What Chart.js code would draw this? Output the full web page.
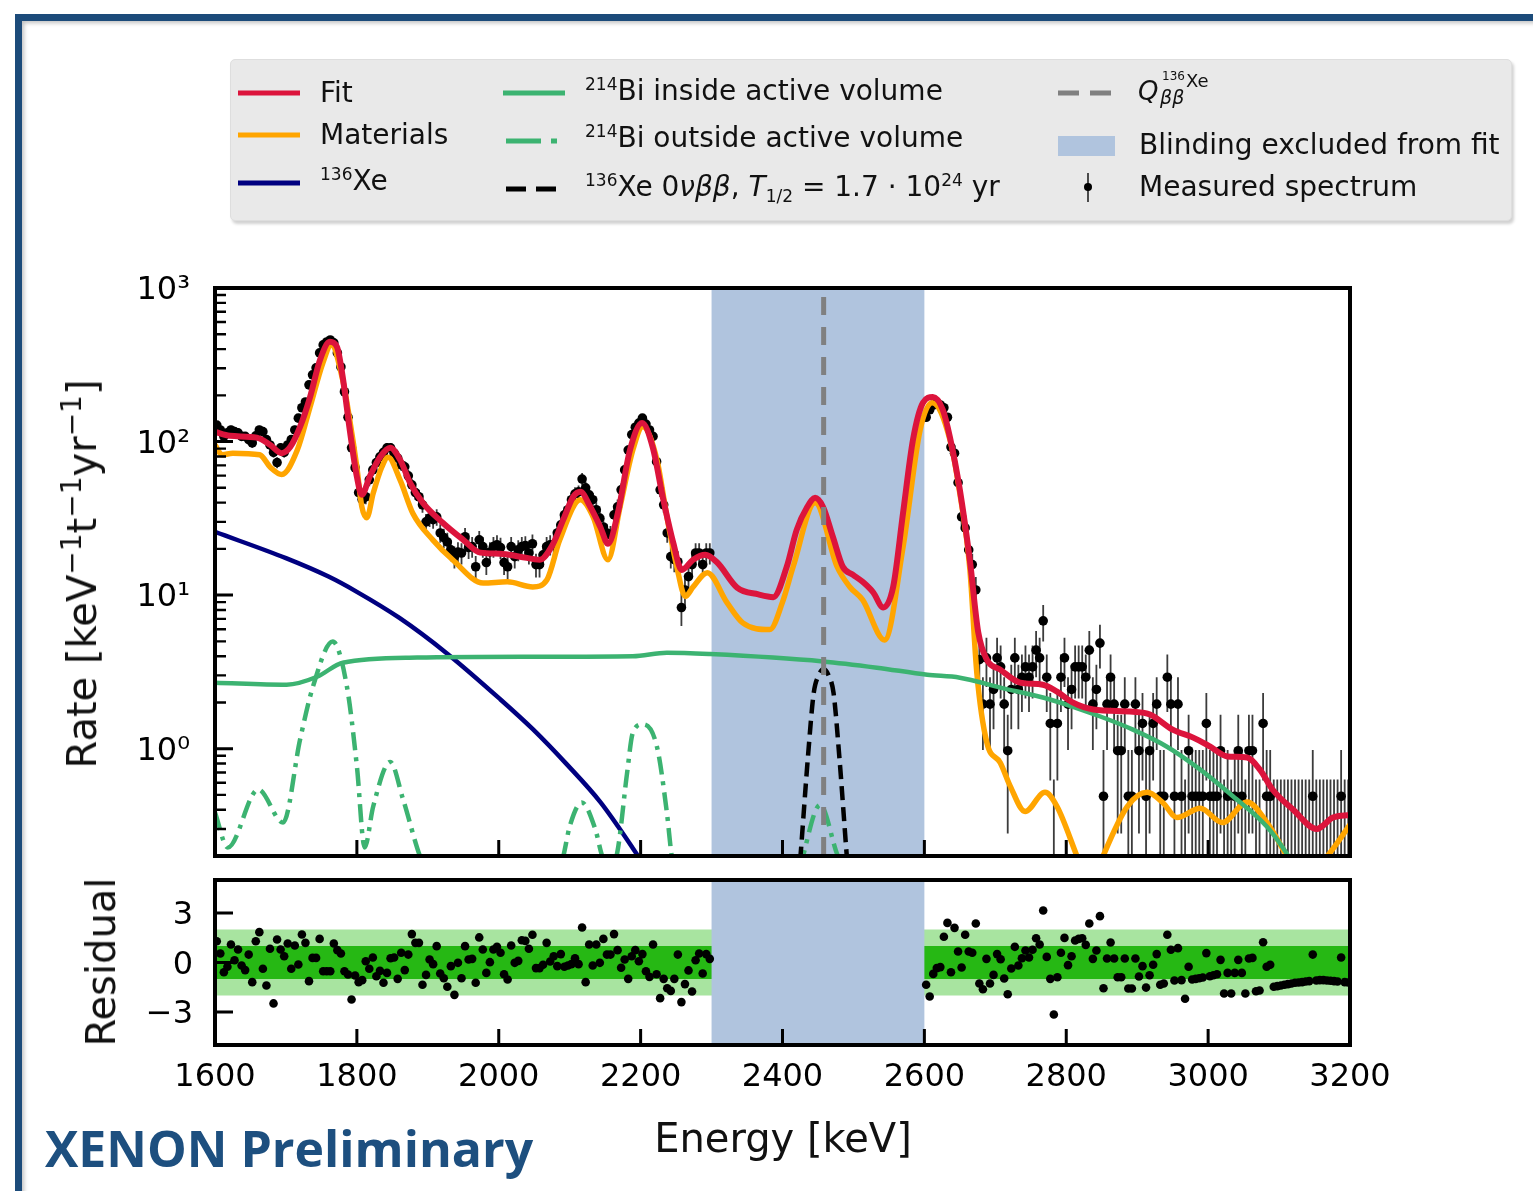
<!DOCTYPE html>
<html><head><meta charset="utf-8">
<script src="https://cdn.jsdelivr.net/npm/chart.js@4.4.1/dist/chart.umd.min.js"></script>
<style>
html,body{margin:0;padding:0;background:#fff;}
body{width:1533px;height:1191px;position:relative;overflow:hidden;font-family:'DejaVu Sans',sans-serif;color:#111;}
.abs{position:absolute;white-space:nowrap;line-height:1;}
#frame{position:absolute;left:15px;top:14px;width:1700px;height:1400px;border-top:7px solid #1c4b7a;border-left:7px solid #1c4b7a;box-shadow:inset 2px 2px 4px rgba(0,0,0,0.25);}
#legbox{position:absolute;left:230px;top:59px;width:1282px;height:162px;background:#e9e9e9;border:1px solid #dedede;border-radius:5px;box-shadow:2px 3px 3px rgba(0,0,0,0.18);box-sizing:border-box;}
.lt{font-size:28px;color:#111;}
.sup{font-size:17px;vertical-align:10px;line-height:0;}
.sub{font-size:17px;vertical-align:-6px;line-height:0;}
.tsup{font-size:28px;vertical-align:15px;line-height:0;}
.axt{font-size:40px;color:#111;}
canvas{position:absolute;left:0;}
</style>
</head><body>
<div id="frame"></div>
<canvas id="main" width="1533" height="880" style="top:0"></canvas>
<canvas id="res" width="1533" height="260" style="top:860px"></canvas>

<div id="legbox"></div>
<svg class="abs" style="left:0;top:0" width="1533" height="230">
  <line x1="238" y1="93" x2="300" y2="93" stroke="#dc143c" stroke-width="5"/>
  <line x1="238" y1="135" x2="300" y2="135" stroke="#ffa500" stroke-width="5"/>
  <line x1="238" y1="183" x2="300" y2="183" stroke="#000080" stroke-width="5"/>
  <line x1="503" y1="93" x2="565" y2="93" stroke="#3cb371" stroke-width="5"/>
  <line x1="506" y1="141" x2="560" y2="141" stroke="#3cb371" stroke-width="5" stroke-dasharray="35 10 6 100"/>
  <line x1="506" y1="189" x2="557" y2="189" stroke="#000" stroke-width="5" stroke-dasharray="20 10"/>
  <line x1="1058" y1="93" x2="1111" y2="93" stroke="#808080" stroke-width="5" stroke-dasharray="21 11"/>
  <rect x="1058" y="136" width="57" height="20" fill="#b0c4de"/>
  <line x1="1088" y1="173" x2="1088" y2="202" stroke="#222" stroke-width="1.6"/>
  <circle cx="1088" cy="187" r="4" fill="#000"/>
</svg>
<div class="abs lt" style="left:320px;top:79px">Fit</div>
<div class="abs lt" style="left:320px;top:121px">Materials</div>
<div class="abs lt" style="left:320px;top:167px"><span class="sup">136</span>Xe</div>
<div class="abs lt" style="left:585px;top:77px"><span class="sup">214</span>Bi inside active volume</div>
<div class="abs lt" style="left:585px;top:124px"><span class="sup">214</span>Bi outside active volume</div>
<div class="abs lt" style="left:585px;top:173px"><span class="sup">136</span>Xe 0<i>νββ</i>, <i>T</i><span class="sub">1/2</span> = 1.7 · 10<span class="sup">24</span> yr</div>
<div class="abs" style="left:1138px;top:78px;font-size:26px;font-style:italic">Q</div>
<div class="abs" style="left:1160px;top:88px;font-size:19px;font-style:italic">ββ</div>
<div class="abs" style="left:1162px;top:70px;font-size:12px">136</div>
<div class="abs" style="left:1186px;top:72px;font-size:18px">Xe</div>
<div class="abs lt" style="left:1139px;top:131px">Blinding excluded from fit</div>
<div class="abs lt" style="left:1139px;top:173px">Measured spectrum</div>

<div class="abs axt" style="left:82px;top:574px;transform:translate(-50%,-50%) rotate(-90deg);">Rate [keV<span class="tsup">−1</span>t<span class="tsup">−1</span>yr<span class="tsup">−1</span>]</div>
<div class="abs axt" style="left:101px;top:962px;transform:translate(-50%,-50%) rotate(-90deg);">Residual</div>
<div class="abs axt" style="left:783px;top:1118px;transform:translateX(-50%);">Energy [keV]</div>
<div class="abs" style="left:45px;top:1123px;font-family:'Open Sans',sans-serif;font-weight:700;font-size:50px;color:#1d4f7f;">XENON Preliminary</div>

<script>
// ---------------- data ----------------
const xRange = [1600, 3200];
const xTickValues = [1600, 1800, 2000, 2200, 2400, 2600, 2800, 3000, 3200];
const yMainRange = [0.2, 1000];
const yMainTicks = [1, 10, 100, 1000];
const yMainLabels = ['10⁰', '10¹', '10²', '10³'];
const resRange = [-5, 5];
const resTicks = [-3, 0, 3];
const bandLevels = [1, 2];
const blindRange = [2300, 2600];
const qValue = 2458;
const binWidth = 5;
const leftStart = 1600;
const rightStart = 2600;

const fitE = [1600,1621,1659,1678,1694,1706,1720,1734,1748,1762,1772,1780,1790,1800,1807,1818,1833,1847,1861,1875,1893,1921,1950,1974,2002,2030,2058,2076,2091,2105,2115,2129,2143,2154,2168,2185,2202,2217,2232,2246,2258,2274,2291,2308,2336,2366,2387,2406,2420,2435,2446,2457,2471,2485,2499,2513,2528,2542,2556,2570,2584,2598,2612,2626,2636,2650,2664,2676,2688,2707,2735,2767,2787,2809,2838,2894,2918,2950,2979,3003,3027,3055,3073,3091,3120,3153,3176,3200];
const fitV = [115.6,109,106,95,84,92,125,195,340,446,413,264,119,59,45,59,79.5,91,76,53.8,39.9,29.6,22.9,18.9,18.6,17.8,17,21.3,31,43.7,47.1,37.6,27.9,21.6,34.4,88,132,92,41.8,21.9,14.6,17,18.3,16.3,11.2,10.1,9.7,15.3,26.6,37.6,43,37.6,24,15.3,13.6,12.2,10.4,8.3,11.3,34.4,103,179,195,161,107,48.5,17,5.7,3.8,3.27,2.69,2.61,2.35,2.0,1.8,1.74,1.67,1.33,1.18,1.03,0.89,0.875,0.73,0.54,0.40,0.30,0.356,0.37];

const matE = [1600,1610,1625,1663,1678,1694,1716,1734,1752,1764,1780,1790,1800,1807,1814,1823,1835,1844,1861,1879,1907,1935,1978,2012,2048,2068,2086,2115,2133,2154,2171,2189,2203,2223,2237,2251,2263,2274,2294,2322,2344,2382,2400,2415,2446,2477,2495,2513,2544,2570,2594,2611,2636,2650,2664,2674,2688,2707,2721,2742,2770,2787,2815,2834,2852,2886,2914,2936,2956,2989,3020,3055,3083,3111,3130,3168,3200];
const matV = [95,82,84,82,68,61,88,168,325,426,252,138,68,37.6,31.9,46,68,79,56,34,22.9,17,12,12.2,11.3,12.6,22.9,41.8,32.4,17,37.6,88,125,76,32.4,15.3,9.8,11.3,14,8.9,6.6,5.96,9.0,15.3,39.9,15.3,11.3,9.3,5.1,20.6,119,179,103,46,15,3.1,1.1,0.81,0.57,0.39,0.52,0.42,0.2,0.12,0.2,0.42,0.52,0.446,0.356,0.41,0.33,0.45,0.33,0.2,0.14,0.2,0.32];

const xeE = [1600,1700,1760,1800,1860,1927,2002,2048,2096,2143,2189,2230];
const xeV = [25.8,17.4,13.2,10.5,7.1,4.17,2.1,1.34,0.79,0.45,0.225,0.115];

const biInE = [1600,1701,1744,1780,1885,2048,2189,2237,2298,2457,2533,2604,2650,2707,2777,2848,2894,2942,2989,3035,3083,3113,3150];
const biInV = [2.69,2.61,2.94,3.63,3.92,3.97,4.0,4.22,4.13,3.7,3.37,3.03,2.9,2.5,2.09,1.62,1.33,1.03,0.73,0.49,0.31,0.2,0.1];

const biOutE = [1600,1618,1661,1696,1720,1738,1766,1786,1800,1811,1823,1847,1865,1889,1950,2050,2091,2100,2117,2136,2146,2157,2167,2181,2189,2203,2223,2237,2244,2300,2400,2429,2453,2478,2550,2650];
const biOutV = [0.384,0.227,0.542,0.33,1.15,2.53,4.98,2.53,0.77,0.227,0.42,0.82,0.47,0.199,0.05,0.05,0.199,0.311,0.446,0.3,0.199,0.17,0.21,0.70,1.27,1.44,1.03,0.384,0.199,0.05,0.05,0.2,0.43,0.2,0.05,0.02];

const zeroNuE = [2420,2425,2436,2444,2451,2458,2465,2472,2480,2491,2496];
const zeroNuV = [0.1,0.19,0.9,2.3,3.0,3.3,3.0,2.3,0.9,0.19,0.1];

const leftRate = [128,119,108,114,119,116,114,108,108,103,
 98,109,119,116,103,95,85,73,91,85,
 95,103,119,142,166,181,234,272,302,378,
 426,445,459,439,378,306,211,144,91,67.5,
 46.5,41.8,43.7,56.3,65.4,73,79.5,85,91,91,
 84,78,70.5,68.5,59.8,52.3,46.5,43.7,38.7,30,
 31.7,31,32.3,25.4,23.7,22.2,19.7,17.8,19.1,18.8,
 24,20.4,20.7,15.3,22.9,20.7,16.3,19.1,20.7,21.3,
 20.4,16.3,15.3,20.7,17.8,19.7,20.7,21,18.8,21.6,
 15.8,15.8,18.3,20.7,21.3,21.3,25.4,28.7,33.3,36,
 41.8,45.7,47,57,50,45,41.8,36,31.7,27.8,
 25.4,24.7,33.3,37.6,48.5,65.4,88,111,124,132,
 142,130,119,108,74,48.5,38.7,25.4,17.8,17,
 16.5,8.3,10.8,13.2,15.8,18.8,18.8,15.8,18.8,18.8];
const leftErr = [7.9,7.6,7.3,7.5,7.6,7.5,7.5,7.3,7.3,7.1,
 6.9,7.3,7.6,7.5,7.1,6.8,6.4,6.0,6.7,6.4,
 6.8,7.1,7.6,8.3,9.0,9.4,10.7,11.5,12.1,13.6,
 14.4,14.7,15.0,14.6,13.6,12.2,10.1,8.4,6.7,5.7,
 4.8,4.5,4.6,5.2,5.6,6.0,6.2,6.4,6.7,6.7,
 6.4,6.2,5.9,5.8,5.4,5.0,4.8,4.6,4.3,3.8,
 3.9,3.9,4.0,3.5,3.4,3.3,3.1,2.9,3.0,3.0,
 3.4,3.2,3.2,2.7,3.3,3.2,2.8,3.0,3.2,3.2,
 3.2,2.8,2.7,3.2,2.9,3.1,3.2,3.2,3.0,3.2,
 2.8,2.8,3.0,3.2,3.2,3.2,3.5,3.7,4.0,4.2,
 4.5,4.7,4.8,5.3,4.9,4.7,4.5,4.2,3.9,3.7,
 3.5,3.5,4.0,4.3,4.9,5.6,6.5,7.4,7.8,8.0,
 8.3,8.0,7.6,7.3,6.0,4.9,4.3,3.5,2.9,2.9,
 2.8,2.0,2.3,2.5,2.8,3.0,3.0,2.8,3.0,3.0];
const leftResid = [1.29,0.55,-0.59,-0.26,1.09,0.14,0.79,-0.18,-0.46,0.48,
 -1.19,1.29,1.84,-0.38,-1.39,0.83,-2.48,1.39,0.79,0.38,
 1.15,-0.38,1.03,-0.12,1.70,1.19,-1.13,0.28,0.28,1.43,
 -0.53,-0.53,-0.53,1.15,0.75,0.55,-0.53,-0.73,-2.24,-0.79,
 -1.19,-1.07,0.08,-0.38,0.30,-0.83,-0.51,-1.23,-0.63,0.26,
 0.30,-0.99,0.59,-0.46,0.48,1.72,1.19,1.19,-1.35,-0.75,
 0.18,-0.10,0.99,-0.67,-0.95,-1.47,-0.22,-1.96,-0.02,-0.95,
 0.99,0.18,0.22,-1.23,1.52,0.79,-0.63,0.02,0.79,0.95,
 0.59,-0.71,-1.03,1.03,-0.02,0.10,1.35,1.31,0.83,1.68,
 -0.34,-0.34,-0.14,1.19,0.06,0.38,-0.22,0.51,-0.26,-0.18,
 -0.10,0.26,-0.10,2.12,-1.19,1.09,-0.18,1.09,-0.02,1.43,
 0.48,0.48,1.72,0.75,-0.32,0.18,-0.99,0.38,0.75,0.08,
 0.51,-0.53,-0.87,1.09,-0.71,-2.16,-0.99,-1.56,-1.72,-0.99,
 0.48,-2.40,-1.31,-0.48,-1.76,0.14,0.55,-0.67,0.51,0.22];

const rightRate = [144,161,173,179,173,166,144,92,84,54,
 32.3,27.4,19.7,15.8,10.8,3.8,1.95,3.9,1.95,2.43,
 3.9,3.41,1.95,0.97,2.43,3.9,2.43,2.92,3.41,2.92,
 3.41,4.38,3.9,6.8,2.92,1.46,0,1.46,2.92,3.9,
 1.95,2.43,3.41,3.41,3.41,2.92,4.38,1.95,2.43,4.87,
 0.49,1.95,2.92,1.95,0.97,0.97,1.95,0.49,0.49,1.95,
 0.97,1.46,0.49,0.97,1.46,1.95,0.49,0.49,2.92,1.95,
 0.49,1.95,0.49,0,0.97,0.49,0.49,0.49,0.49,1.46,
 0.49,0.49,0.49,0.97,0,0.49,0,0.49,0.97,0.49,
 0,0.97,0.97,0,0,1.46,0.49,0.49,0,0,
 0,0,0,0,0,0,0,0,0,0.49,
 0,0,0,0,0,0,0,0.49,0,0];
const rightErr = [8.4,8.9,9.2,9.3,9.2,9.0,8.4,6.7,6.4,5.1,
 4.0,3.7,3.1,2.8,2.3,1.36,0.97,1.38,0.97,1.09,
 1.38,1.29,0.97,0.69,1.09,1.38,1.09,1.19,1.29,1.19,
 1.29,1.46,1.38,1.82,1.19,0.84,0.63,0.84,1.19,1.38,
 0.97,1.09,1.29,1.29,1.29,1.19,1.46,0.97,1.09,1.54,
 0.49,0.97,1.19,0.97,0.69,0.69,0.97,0.49,0.49,0.97,
 0.69,0.84,0.49,0.69,0.84,0.97,0.49,0.49,1.19,0.97,
 0.49,0.97,0.49,0.63,0.69,0.49,0.49,0.49,0.49,0.84,
 0.49,0.49,0.49,0.69,0.63,0.49,0.63,0.49,0.69,0.49,
 0.63,0.69,0.69,0.63,0.63,0.84,0.49,0.49,0.63,0.63,
 0.63,0.63,0.63,0.63,0.63,0.63,0.63,0.63,0.63,0.49,
 0.63,0.63,0.63,0.63,0.63,0.63,0.63,0.49,0.63,0.63];
const rightResid = [-1.35,-2.06,-0.69,-0.34,-0.28,1.56,2.40,-0.59,2.10,0.67,
 -0.30,1.68,0.67,0.59,2.36,-1.27,-1.62,0.22,-1.27,-0.75,
 0.51,0.20,-0.97,-1.92,-0.36,0.95,-0.18,0.26,0.73,0.30,
 0.77,1.47,1.09,3.15,0.34,-0.99,-3.15,-0.89,0.59,1.49,
 -0.16,0.38,1.33,1.43,1.47,1.07,2.36,0.22,0.73,2.81,
 -1.56,0.24,1.21,0.24,-0.89,-0.89,0.24,-1.58,-1.58,0.24,
 -0.85,-0.22,-1.52,-0.77,-0.14,0.51,-1.35,-1.27,1.68,0.77,
 -1.09,0.87,-1.07,-2.20,-0.26,-1.03,-0.99,-0.95,-0.91,0.57,
 -0.83,-0.77,-0.71,0.16,-1.88,-0.63,-1.88,-0.63,0.16,-0.63,
 -1.88,0.24,0.28,-1.74,-1.70,1.23,-0.26,-0.14,-1.47,-1.43,
 -1.39,-1.35,-1.31,-1.27,-1.23,-1.21,-1.19,-1.15,-1.13,0.48,
 -1.09,-1.07,-1.07,-1.09,-1.11,-1.13,-1.15,0.30,-1.19,-1.21];

// ---------------- helpers ----------------
const pairs = (xs, ys) => xs.map((x, i) => ({x: x, y: ys[i]}));
const spectrumSets = [
  {start: leftStart, rate: leftRate, err: leftErr, resid: leftResid},
  {start: rightStart, rate: rightRate, err: rightErr, resid: rightResid}
];
const binCenter = (s, i) => s.start + binWidth * (i + 0.5);
const spectrumPoints = [];
const residPoints = [];
spectrumSets.forEach(s => {
  s.rate.forEach((v, i) => spectrumPoints.push({x: binCenter(s, i), y: v > 0 ? v : null}));
  s.resid.forEach((v, i) => residPoints.push({x: binCenter(s, i), y: v}));
});
const minorLog = [];
[0.1, 1, 10, 100].forEach(d => { for (let k = 2; k <= 9; k++) { const v = k * d; if (v >= yMainRange[0] && v <= yMainRange[1]) minorLog.push(v); } });

Chart.defaults.font.family = "'DejaVu Sans', sans-serif";
Chart.defaults.color = '#000';

const noPad = s => { s.paddingTop = 0; s.paddingBottom = 0; s.paddingLeft = 0; s.paddingRight = 0; };

const framePlugin = {
  id: 'frameTicks',
  beforeDatasetsDraw(chart, args, o) {
    const {ctx, chartArea: a} = chart;
    const x = chart.scales.x, y = chart.scales.y;
    ctx.save();
    ctx.beginPath(); ctx.rect(a.left, a.top, a.right - a.left, a.bottom - a.top); ctx.clip();
    if (o.bands) {
      const p0 = x.getPixelForValue(xRange[0]), p1 = x.getPixelForValue(xRange[1]);
      let t = y.getPixelForValue(bandLevels[1]), b = y.getPixelForValue(-bandLevels[1]);
      ctx.fillStyle = '#a8e4a0'; ctx.fillRect(p0, t, p1 - p0, b - t);
      t = y.getPixelForValue(bandLevels[0]); b = y.getPixelForValue(-bandLevels[0]);
      ctx.fillStyle = '#26b814'; ctx.fillRect(p0, t, p1 - p0, b - t);
    }
    const b0 = x.getPixelForValue(blindRange[0]), b1 = x.getPixelForValue(blindRange[1]);
    ctx.fillStyle = '#b0c4de';
    ctx.fillRect(b0, a.top, b1 - b0, a.bottom - a.top);
    if (o.errors) {
      ctx.strokeStyle = '#3c3c3c'; ctx.lineWidth = 1.8;
      ctx.beginPath();
      spectrumSets.forEach(s => {
        s.rate.forEach((v, i) => {
          const px = x.getPixelForValue(binCenter(s, i));
          const e = s.err[i];
          let top, bot;
          if (v > 0) {
            top = y.getPixelForValue(v + e);
            bot = v - e > 0 ? y.getPixelForValue(v - e) : a.bottom;
          } else {
            top = y.getPixelForValue(e);
            bot = a.bottom;
          }
          ctx.moveTo(px, top); ctx.lineTo(px, Math.min(bot, a.bottom));
        });
      });
      ctx.stroke();
    }
    ctx.restore();
  },
  afterDatasetsDraw(chart, args, o) {
    const {ctx, chartArea: a} = chart;
    const x = chart.scales.x, y = chart.scales.y;
    ctx.save();
    ctx.strokeStyle = '#000';
    ctx.lineWidth = 3;
    ctx.beginPath();
    xTickValues.forEach(v => { const p = x.getPixelForValue(v); ctx.moveTo(p, a.bottom); ctx.lineTo(p, a.bottom - 16); });
    o.yMajor.forEach(v => { const p = y.getPixelForValue(v); ctx.moveTo(a.left, p); ctx.lineTo(a.left + 18, p); });
    ctx.stroke();
    if (o.yMinor) {
      ctx.lineWidth = 2.4;
      ctx.beginPath();
      o.yMinor.forEach(v => { const p = y.getPixelForValue(v); ctx.moveTo(a.left, p); ctx.lineTo(a.left + 11, p); });
      ctx.stroke();
    }
    ctx.lineWidth = 4;
    ctx.strokeRect(a.left, a.top, a.right - a.left, a.bottom - a.top);
    ctx.restore();
  }
};

const lineDs = (label, xs, ys, color, width, order, extra) => Object.assign({
  label: label, data: pairs(xs, ys), borderColor: color, borderWidth: width,
  pointRadius: 0, fill: false, cubicInterpolationMode: 'monotone', order: order, clip: 0
}, extra || {});

new Chart(document.getElementById('main'), {
  type: 'line',
  data: {
    datasets: [
      lineDs('Q', [qValue, qValue], [yMainRange[1], yMainRange[0]], '#808080', 5, 0, {borderDash: [18, 12], borderDashOffset: 21, cubicInterpolationMode: 'default', tension: 0}),
      lineDs('Fit', fitE, fitV, '#dc143c', 6, 1),
      lineDs('0vbb', zeroNuE, zeroNuV, '#000000', 4.5, 2, {borderDash: [14, 7]}),
      lineDs('Bi in', biInE, biInV, '#3cb371', 4.5, 3),
      lineDs('Bi out', biOutE, biOutV, '#3cb371', 4.5, 4, {borderDash: [18, 7, 4, 7]}),
      lineDs('Xe136', xeE, xeV, '#000080', 4.5, 5),
      lineDs('Materials', matE, matV, '#ffa500', 5.5, 6),
      {label: 'Measured', data: spectrumPoints, showLine: false, pointRadius: 4.8, pointBackgroundColor: '#000', pointBorderColor: '#000', pointBorderWidth: 0, order: 10}
    ]
  },
  options: {
    responsive: false, animation: false, devicePixelRatio: 1,
    layout: {padding: {left: 0, top: 288, right: 183, bottom: 24}},
    plugins: {legend: {display: false}, tooltip: {enabled: false},
      frameTicks: {errors: true, yMajor: yMainTicks, yMinor: minorLog}},
    scales: {
      x: {type: 'linear', min: xRange[0], max: xRange[1], display: false, afterFit: noPad},
      y: {type: 'logarithmic', min: yMainRange[0], max: yMainRange[1],
        afterFit: s => { s.width = 215; noPad(s); },
        afterBuildTicks: s => { s.ticks = yMainTicks.map(v => ({value: v})); },
        ticks: {callback: v => yMainLabels[yMainTicks.indexOf(v)], font: {size: 32}, color: '#000', padding: 25, labelOffset: 3},
        grid: {display: false, drawTicks: false}, border: {display: false}}
    }
  },
  plugins: [framePlugin]
});

new Chart(document.getElementById('res'), {
  type: 'line',
  data: {
    datasets: [
      {label: 'Residual', data: residPoints, showLine: false, pointRadius: 4.3, pointBackgroundColor: '#000', pointBorderColor: '#000', pointBorderWidth: 0}
    ]
  },
  options: {
    responsive: false, animation: false, devicePixelRatio: 1,
    layout: {padding: {left: 0, top: 20, right: 183, bottom: 15}},
    plugins: {legend: {display: false}, tooltip: {enabled: false},
      frameTicks: {bands: true, yMajor: resTicks}},
    scales: {
      x: {type: 'linear', min: xRange[0], max: xRange[1],
        afterFit: s => { s.height = 60; noPad(s); },
        afterBuildTicks: s => { s.ticks = xTickValues.map(v => ({value: v})); },
        ticks: {callback: v => String(v), font: {size: 32}, color: '#000', padding: 13, maxRotation: 0, autoSkip: false},
        grid: {display: false, drawTicks: false}, border: {display: false}},
      y: {type: 'linear', min: resRange[0], max: resRange[1],
        afterFit: s => { s.width = 215; noPad(s); },
        afterBuildTicks: s => { s.ticks = resTicks.map(v => ({value: v})); },
        ticks: {callback: v => (v < 0 ? '−' + Math.abs(v) : String(v)), font: {size: 32}, color: '#000', padding: 22, labelOffset: 3},
        grid: {display: false, drawTicks: false}, border: {display: false}}
    }
  },
  plugins: [framePlugin]
});
</script>
</body></html>
